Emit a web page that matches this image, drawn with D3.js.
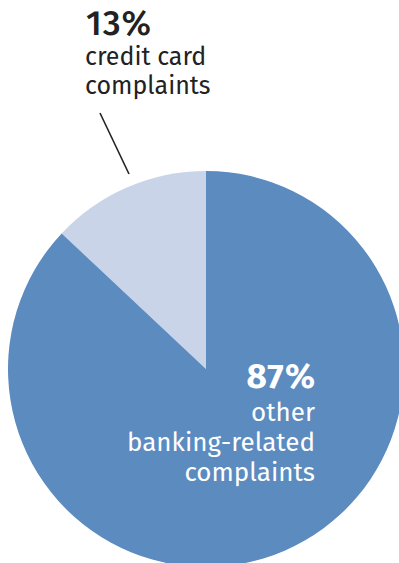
<!DOCTYPE html>
<html>
<head>
<meta charset="utf-8">
<script src="https://cdn.jsdelivr.net/npm/d3@7"></script>
<style>
  html, body { margin: 0; padding: 0; background: #fff; }
  svg { display: block; }
</style>
</head>
<body>
<svg id="chart" width="399" height="563"></svg>
<script>
// Share of complaints by type
const categories = ["credit card complaints", "other banking-related complaints"];
const shares = [13, 87];
const colors = ["#c9d4e8", "#5b8bbf"];

const svg = d3.select("#chart");
const cx = 206, cy = 369, radius = 198;

// Pie laid out counter-clockwise from 12 o'clock: small slice sits on the upper left
const pie = d3.pie()
  .sort(null)
  .startAngle(0)
  .endAngle(-2 * Math.PI)
  .value(d => d);

const arcs = pie(shares);
const arc = d3.arc().innerRadius(0).outerRadius(radius);

const g = svg.append("g").attr("transform", `translate(${cx},${cy})`);
g.selectAll("path")
  .data(arcs)
  .join("path")
  .attr("d", arc)
  .attr("fill", (d, i) => colors[i]);

const font = "'Fira Sans', 'Noto Sans', 'Open Sans', sans-serif";

// Leader line for the small slice
svg.append("line")
  .attr("x1", 100).attr("y1", 113)
  .attr("x2", 129).attr("y2", 174)
  .attr("stroke", "#222").attr("stroke-width", 1.6);

// Outside label (credit card)
const outLbl = svg.append("text")
  .attr("font-family", font)
  .attr("fill", "#222");
outLbl.append("tspan")
  .attr("x", 86).attr("y", 35)
  .attr("font-size", 35).attr("font-weight", 500)
  .attr("letter-spacing", 1)
  .text(shares[0] + "%");
outLbl.append("tspan")
  .attr("x", 85).attr("y", 65)
  .attr("font-size", 25)
  .text("credit card");
outLbl.append("tspan")
  .attr("x", 85).attr("y", 94)
  .attr("font-size", 25)
  .text("complaints");

// Inside label (other banking)
const inLbl = svg.append("text")
  .attr("font-family", font)
  .attr("fill", "#fff")
  .attr("text-anchor", "end");
inLbl.append("tspan")
  .attr("x", 316).attr("y", 388)
  .attr("font-size", 35).attr("font-weight", "bold")
  .attr("letter-spacing", 1)
  .text(shares[1] + "%");
inLbl.append("tspan")
  .attr("x", 315).attr("y", 421)
  .attr("font-size", 26)
  .text("other");
inLbl.append("tspan")
  .attr("x", 315).attr("y", 451)
  .attr("font-size", 26)
  .text("banking-related");
inLbl.append("tspan")
  .attr("x", 315).attr("y", 481)
  .attr("font-size", 26)
  .text("complaints");
</script>
</body>
</html>
